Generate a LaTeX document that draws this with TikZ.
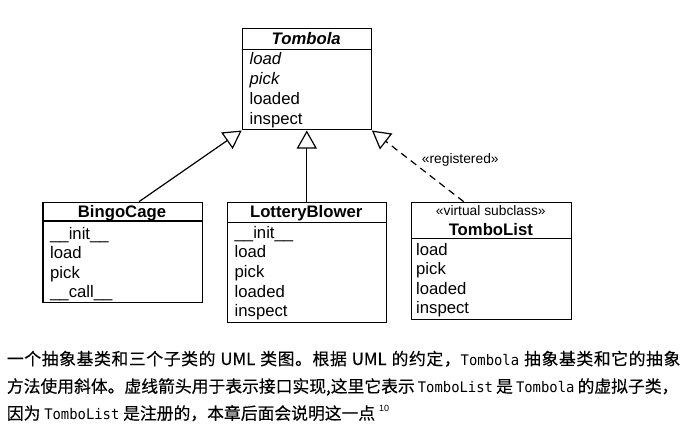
\documentclass[tikz,border=0pt]{standalone}
\usepackage{fontspec}
\setmainfont{Liberation Sans}
\newfontfamily\cjk[FakeBold=0.3]{Noto Sans CJK SC}
\newfontfamily\codefont[FakeStretch=0.95]{DejaVu Sans Mono}
\usetikzlibrary{arrows.meta,calc}
\newXeTeXintercharclass\myhanclass
\count255="4E00
\loop
  \XeTeXcharclass\count255=\myhanclass
  \advance\count255 by 1
\ifnum\count255<"A000 \repeat
\XeTeXcharclass"3002=\myhanclass
\XeTeXcharclass"FF0C=\myhanclass
\XeTeXinterchartoks\myhanclass\myhanclass={\hskip 0pt plus 1pt\relax}
\XeTeXinterchartokenstate=1
\newcommand{\cd}[1]{{\codefont\fontsize{14.6}{17}\selectfont #1}}
\tikzset{
  classbox/.style={draw, line width=1.2pt, inner sep=0pt, anchor=north west},
  member/.style={anchor=base west, inner sep=0pt, font=\fontsize{16.7}{20}\selectfont},
  title/.style={anchor=base, inner sep=0pt, font=\fontsize{16.7}{20}\selectfont\bfseries},
  stereo/.style={anchor=base, inner sep=0pt, font=\fontsize{13.8}{16}\selectfont},
  inherit/.style={line width=1.2pt, -{Triangle[open, length=18pt, width=20pt, line width=1.2pt]}},
  realize/.style={inherit, dash pattern=on 7pt off 5pt},
  caption/.style={anchor=base west, inner sep=0pt, font=\cjk\fontsize{16.8}{20}\selectfont}
}
\begin{document}
\begin{tikzpicture}[x=1pt,y=-1pt]
\useasboundingbox (0,0) rectangle (693,433);

% Tombola
\node[classbox, minimum width=129pt, minimum height=101pt] (tombola) at (241.7,28.3) {};
\draw[line width=1.2pt] ([yshift=-21pt]tombola.north west) coordinate (th1) -- ([yshift=-21pt]tombola.north east) coordinate (th2);
\node[title, font=\fontsize{16.7}{20}\selectfont\bfseries\itshape] (tombolaT) at (306.2,45) {Tombola};
\node[member, font=\fontsize{16.7}{20}\selectfont\itshape] (tm1) at (249.5,65) {load};
\node[member, font=\fontsize{16.7}{20}\selectfont\itshape] (tm2) at (249.5,85) {pick};
\node[member] (tm3) at (249.5,105) {loaded};
\node[member] (tm4) at (249.5,124.8) {inspect};

% BingoCage
\node[classbox, minimum width=159.4pt, minimum height=99.8pt] (bingo) at (42.3,201.7) {};
\draw[line width=1.2pt] ([yshift=-19.3pt]bingo.north west) coordinate (bh1) -- ([yshift=-19.3pt]bingo.north east) coordinate (bh2);
\node[title] (bingoT) at (122,217.5) {BingoCage};
\node[member] (bm1) at (50,239) {\_\_init\_\_};
\node[member] (bm2) at (50,258.5) {load};
\node[member] (bm3) at (50,278) {pick};
\node[member] (bm4) at (50,297.5) {\_\_call\_\_};

% LotteryBlower
\node[classbox, minimum width=159pt, minimum height=120pt] (lottery) at (226.7,201.7) {};
\draw[line width=1.2pt] ([yshift=-20.6pt]lottery.north west) coordinate (lh1) -- ([yshift=-20.6pt]lottery.north east) coordinate (lh2);
\node[title] (lotteryT) at (306.2,217) {LotteryBlower};
\node[member] (lm1) at (234.5,238.3) {\_\_init\_\_};
\node[member] (lm2) at (234.5,257.9) {load};
\node[member] (lm3) at (234.5,277.5) {pick};
\node[member] (lm4) at (234.5,297.1) {loaded};
\node[member] (lm5) at (234.5,316.7) {inspect};

% TomboList
\node[classbox, minimum width=159.5pt, minimum height=117.3pt] (tlist) at (411,201.7) {};
\draw[line width=1.2pt] ([yshift=-36.8pt]tlist.north west) coordinate (xh1) -- ([yshift=-36.8pt]tlist.north east) coordinate (xh2);
\node[stereo] (tlistS) at (490.8,215.7) {«virtual subclass»};
\node[title] (tlistT) at (490.8,235.5) {TomboList};
\node[member] (xm1) at (416,255) {load};
\node[member] (xm2) at (416,274.5) {pick};
\node[member] (xm3) at (416,294) {loaded};
\node[member] (xm4) at (416,313.5) {inspect};

% connectors
\coordinate (bingoTop) at ($(bingo.north west)!0.602!(bingo.north east)$);
\coordinate (tlistTop) at ($(tlist.north west)!0.328!(tlist.north east)$);
\draw[inherit] (bingoTop) -- (tombola.south west);
\draw[inherit] (lottery.north) -- (tombola.south);
\draw[realize] (tlistTop) -- (tombola.south east);
\node[stereo, anchor=base west] (reg) at (421.7,164) {«registered»};

% caption
\node[caption] (cap1) at (6.7,365) {\makebox[673.5pt][s]{一个抽象基类和三个子类的 UML 类图。根据 UML 的约定，\cd{Tombola} 抽象基类和它的抽象}};
\node[caption] (cap2) at (6.7,392.5) {\makebox[671.5pt][s]{方法使用斜体。虚线箭头用于表示接口实现,这里它表示 \cd{TomboList} 是 \cd{Tombola} 的虚拟子类，}};
\node[caption] (cap3) at (6.7,419.5) {因为 \cd{TomboList} 是注册的，本章后面会说明这一点\hspace{4pt}\raisebox{7.8pt}{\fontspec{Liberation Sans}\fontsize{9}{10}\selectfont 10}};
\end{tikzpicture}
\end{document}
